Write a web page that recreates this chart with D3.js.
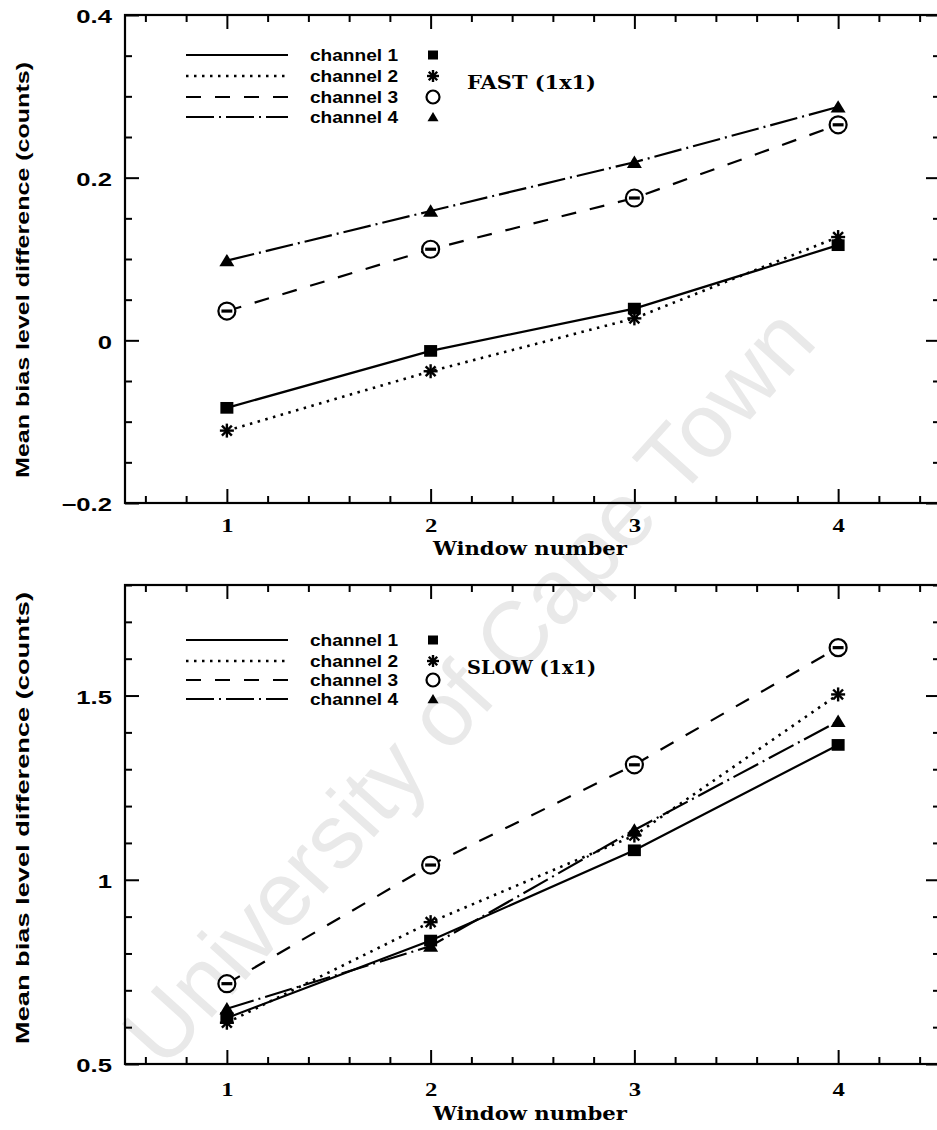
<!DOCTYPE html>
<html>
<head>
<meta charset="utf-8">
<script src="https://cdn.jsdelivr.net/npm/d3@7"></script>
<style>
  body { margin: 0; background: #fff; }
  svg { display: block; }
</style>
</head>
<body>
<svg id="chart" width="937" height="1130"></svg>
<script>
// ---- data -------------------------------------------------------------
const windows = [1, 2, 3, 4];
const channelNames = ["channel 1", "channel 2", "channel 3", "channel 4"];

// FAST readout (1x1): mean bias level difference per window
const fastCh1 = [-0.083, -0.013, 0.039, 0.117];
const fastCh2 = [-0.111, -0.038, 0.027, 0.127];
const fastCh3 = [0.036, 0.112, 0.175, 0.265];
const fastCh4 = [0.098, 0.159, 0.219, 0.287];

// SLOW readout (1x1)
const slowCh1 = [0.625, 0.835, 1.08, 1.366];
const slowCh2 = [0.612, 0.885, 1.12, 1.503];
const slowCh3 = [0.718, 1.04, 1.312, 1.63];
const slowCh4 = [0.65, 0.82, 1.135, 1.43];

const xTickValues = [1, 2, 3, 4];
const fastYTicks = [-0.2, 0, 0.2, 0.4];
const slowYTicks = [0.5, 1, 1.5];

const fastLabel = "FAST (1x1)";
const slowLabel = "SLOW (1x1)";
const xTitle = "Window number";
const yTitle = "Mean bias level difference (counts)";
const watermark = "University of Cape Town";

// ---- styles -----------------------------------------------------------
const SANS = "'Liberation Sans', Arial, Helvetica, sans-serif";
const SLAB = "'DejaVu Serif', 'Liberation Serif', serif";
const TIMES = "'Liberation Serif', 'Times New Roman', serif";
const dashes = [null, "2.5,5.5", "15,14", "28,5,2,5"];
const symbols = ["square", "star", "circle", "triangle"];

const svg = d3.select("#chart");
svg.append("rect").attr("width", 937).attr("height", 1130).attr("fill", "#fff");

// faint diagonal watermark behind the plots
svg.append("text")
  .text(watermark)
  .attr("transform", "translate(468,686) rotate(-48)")
  .attr("text-anchor", "middle")
  .attr("dominant-baseline", "central")
  .attr("font-family", SANS)
  .attr("font-size", 91)
  .attr("fill", "#e9e9e9");

// widen text horizontally about its own anchor point
function widen(sel, k) {
  sel.each(function () {
    const t = d3.select(this);
    const x0 = +t.attr("x") || 0;
    t.attr("x", 0).attr("transform", `translate(${x0},0) scale(${k},1)`);
  });
}

function drawMarker(g, kind, cx, cy, s, withBar) {
  const m = g.append("g").attr("transform", `translate(${cx},${cy})`);
  if (kind === "square") {
    m.append("rect").attr("x", -s / 2).attr("y", -s * 0.45)
      .attr("width", s).attr("height", s * 0.9).attr("fill", "#000");
  } else if (kind === "star") {
    const r = s / 2;
    [0, 45, 90, 135].forEach(a => {
      const rad = a * Math.PI / 180;
      m.append("line")
        .attr("x1", -r * Math.cos(rad)).attr("y1", -r * Math.sin(rad))
        .attr("x2", r * Math.cos(rad)).attr("y2", r * Math.sin(rad))
        .attr("stroke", "#000").attr("stroke-width", 2.4);
    });
  } else if (kind === "circle") {
    m.append("circle").attr("r", s / 2).attr("fill", "#fff")
      .attr("stroke", "#000").attr("stroke-width", 2.2);
    if (withBar) {
      m.append("line").attr("x1", -s * 0.32).attr("x2", s * 0.32)
        .attr("y1", 0).attr("y2", 0).attr("stroke", "#000").attr("stroke-width", 3.2);
    }
  } else {
    m.append("path")
      .attr("d", `M0,${-s * 0.45}L${s / 2},${s * 0.38}L${-s / 2},${s * 0.38}Z`)
      .attr("fill", "#000");
  }
}

function drawPanel(cfg) {
  const x = d3.scaleLinear().domain([0.5, 4.5]).range([125, 940]);
  const y = d3.scaleLinear().domain(cfg.yDomain).range([cfg.bottom, cfg.top]);
  const g = svg.append("g");

  const xMinor = d3.range(6, 45, 2).map(v => v / 10).filter(v => !Number.isInteger(v));
  const yMinor = cfg.yMinor.filter(v => !cfg.yTicks.some(t => Math.abs(t - v) < 1e-9));

  const styleAxis = a => {
    a.select(".domain").remove();
    a.selectAll("line").attr("stroke", "#000").attr("stroke-width", 2);
  };

  // bottom axis: major ticks with labels, minor ticks
  const xb = g.append("g").attr("transform", `translate(0,${cfg.bottom})`)
    .call(d3.axisBottom(x).tickValues(xTickValues).tickSize(-14)
      .tickPadding(cfg.xLabelPad).tickFormat(d3.format("d")));
  styleAxis(xb);
  xb.selectAll("text").attr("font-family", TIMES).attr("font-weight", "bold")
    .attr("font-size", 19).attr("fill", "#000");
  widen(xb.selectAll("text"), 1.3);
  g.append("g").attr("transform", `translate(0,${cfg.bottom})`)
    .call(d3.axisBottom(x).tickValues(xMinor).tickSize(-7).tickFormat(""))
    .call(styleAxis);

  // top axis
  g.append("g").attr("transform", `translate(0,${cfg.top})`)
    .call(d3.axisTop(x).tickValues(xTickValues).tickSize(-14).tickFormat(""))
    .call(styleAxis);
  g.append("g").attr("transform", `translate(0,${cfg.top})`)
    .call(d3.axisTop(x).tickValues(xMinor).tickSize(-7).tickFormat(""))
    .call(styleAxis);

  // left axis with labels
  const yl = g.append("g").attr("transform", "translate(125,0)")
    .call(d3.axisLeft(y).tickValues(cfg.yTicks).tickSize(-14).tickPadding(13)
      .tickFormat(d => (d < 0 ? "\u2212" : "") + String(Math.abs(d))));
  styleAxis(yl);
  yl.selectAll("text").attr("font-family", SANS).attr("font-weight", "bold")
    .attr("font-size", 19).attr("fill", "#000").attr("dy", "0.42em");
  widen(yl.selectAll("text"), 1.35);
  g.append("g").attr("transform", "translate(125,0)")
    .call(d3.axisLeft(y).tickValues(yMinor).tickSize(-7).tickFormat(""))
    .call(styleAxis);

  // right axis
  g.append("g").attr("transform", "translate(940,0)")
    .call(d3.axisRight(y).tickValues(cfg.yTicks).tickSize(-14).tickFormat(""))
    .call(styleAxis);
  g.append("g").attr("transform", "translate(940,0)")
    .call(d3.axisRight(y).tickValues(yMinor).tickSize(-7).tickFormat(""))
    .call(styleAxis);

  // frame
  g.append("rect").attr("x", 125).attr("y", cfg.top)
    .attr("width", 940 - 125).attr("height", cfg.bottom - cfg.top)
    .attr("fill", "none").attr("stroke", "#000").attr("stroke-width", 2.2);

  // series lines
  const line = d3.line().x((d, i) => x(windows[i])).y(d => y(d));
  cfg.series.forEach((vals, k) => {
    g.append("path").datum(vals).attr("d", line)
      .attr("fill", "none").attr("stroke", "#000")
      .attr("stroke-width", k === 1 ? 2.6 : 2.2)
      .attr("stroke-dasharray", dashes[k]);
  });
  // series markers
  const sizes = { square: 13, star: 14, circle: 17, triangle: 15 };
  cfg.series.forEach((vals, k) => {
    vals.forEach((v, i) => drawMarker(g, symbols[k], x(windows[i]), y(v), sizes[symbols[k]], true));
  });

  // legend
  const lsizes = { square: 10, star: 12, circle: 13, triangle: 11 };
  channelNames.forEach((name, k) => {
    const ry = cfg.legendRows[k];
    g.append("line").attr("x1", 186).attr("x2", 288).attr("y1", ry).attr("y2", ry)
      .attr("stroke", "#000").attr("stroke-width", k === 1 ? 2.4 : 2)
      .attr("stroke-dasharray", dashes[k]);
    g.append("text").text(name).attr("x", 310).attr("y", ry + 6)
      .attr("font-family", SANS).attr("font-weight", "bold").attr("font-size", 16)
      .attr("textLength", 88).attr("lengthAdjust", "spacingAndGlyphs");
    drawMarker(g, symbols[k], 433, ry, lsizes[symbols[k]], false);
  });
  g.append("text").text(cfg.label).attr("x", 467).attr("y", cfg.labelBase)
    .attr("font-family", SLAB).attr("font-weight", "bold").attr("font-size", 19)
    .attr("textLength", 129).attr("lengthAdjust", "spacingAndGlyphs");

  // axis titles
  g.append("text").text(xTitle).attr("x", 530).attr("y", cfg.bottom + cfg.xTitleGap)
    .attr("text-anchor", "middle")
    .attr("font-family", SLAB).attr("font-weight", "bold").attr("font-size", 19)
    .attr("textLength", 194).attr("lengthAdjust", "spacingAndGlyphs");
  g.append("text").text(yTitle)
    .attr("transform", `translate(29,${cfg.titleCenter}) rotate(-90)`)
    .attr("text-anchor", "middle")
    .attr("font-family", SANS).attr("font-weight", "bold").attr("font-size", 19)
    .attr("textLength", cfg.titleLen).attr("lengthAdjust", "spacingAndGlyphs");
}

drawPanel({
  top: 15, bottom: 503, yDomain: [-0.2, 0.4],
  yTicks: fastYTicks, yMinor: d3.range(-20, 41, 5).map(v => v / 100),
  series: [fastCh1, fastCh2, fastCh3, fastCh4],
  legendRows: [55, 76, 97, 117], label: fastLabel, labelBase: 89,
  xLabelPad: 16, xTitleGap: 52, titleCenter: 270, titleLen: 416
});

drawPanel({
  top: 585, bottom: 1064, yDomain: [0.5, 1.8],
  yTicks: slowYTicks, yMinor: d3.range(5, 19, 1).map(v => v / 10),
  series: [slowCh1, slowCh2, slowCh3, slowCh4],
  legendRows: [640, 661, 680, 699], label: slowLabel, labelBase: 674,
  xLabelPad: 19, xTitleGap: 56, titleCenter: 818, titleLen: 452
});
</script>
</body>
</html>
